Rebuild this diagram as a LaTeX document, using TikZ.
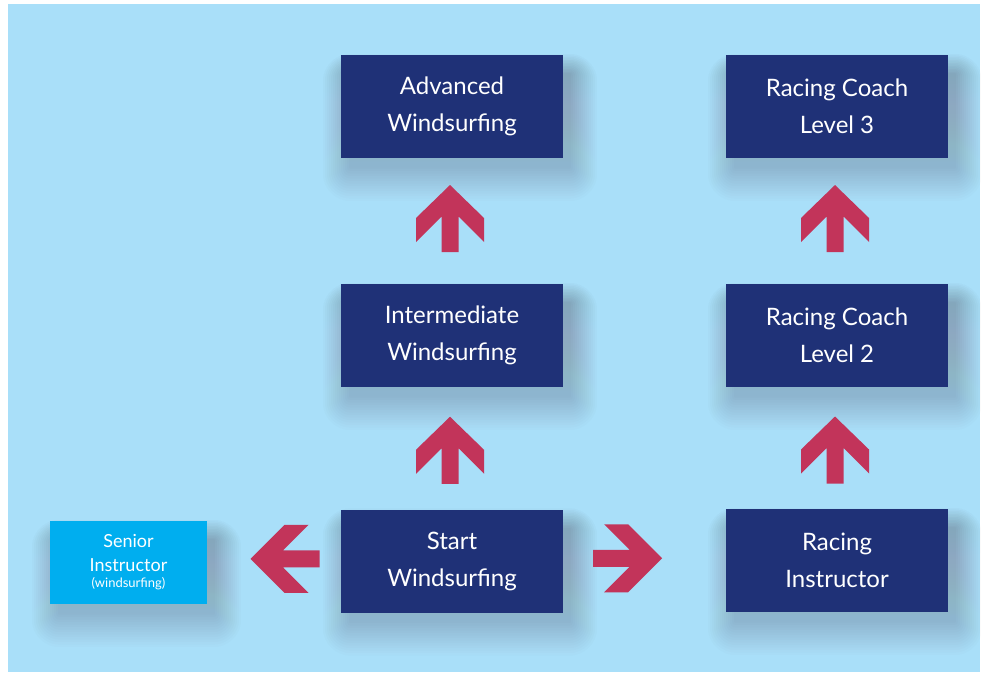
\documentclass[tikz,border=0pt]{standalone}
\usepackage{fontspec}
\setmainfont{Lato}
\usetikzlibrary{calc,backgrounds}
\definecolor{bgblue}{HTML}{A9DFF9}
\definecolor{navy}{HTML}{1F3177}
\definecolor{crimson}{HTML}{C2345A}
\definecolor{cyanbox}{HTML}{00AEEF}
\definecolor{shade}{HTML}{2A4F6A}
\begin{document}
\begin{tikzpicture}[x=1pt,y=-1pt,
  box/.style={fill=navy, text=white, minimum width=222pt, minimum height=103pt, inner sep=0pt, align=center, font=\fontsize{24}{37}\selectfont},
  seniorbox/.style={fill=cyanbox, text=white, minimum width=157pt, minimum height=83pt, inner sep=0pt, align=center, font=\fontsize{18}{24}\selectfont},
  blockarrow/.style={fill=crimson, draw=none},
  uparrow/.pic={\fill[blockarrow] (0,-33.5) -- (34,-0.5) -- (34,23.5) -- (8.5,-2) -- (8.5,33.5) -- (-8.5,33.5) -- (-8.5,-2) -- (-34,23.5) -- (-34,-0.5) -- cycle;},
  rightarrow/.pic={\fill[blockarrow] (34.5,0) -- (0.5,-34) -- (-23.5,-34) -- (2,-8.5) -- (-34.5,-8.5) -- (-34.5,8.5) -- (2,8.5) -- (-23.5,34) -- (0.5,34) -- cycle;},
  leftarrow/.pic={\fill[blockarrow] (-34.5,0) -- (-0.5,-34) -- (23.5,-34) -- (-2,-8.5) -- (34.5,-8.5) -- (34.5,8.5) -- (-2,8.5) -- (23.5,34) -- (-0.5,34) -- cycle;}
]
\useasboundingbox (0,0) rectangle (981,674);

\node[box] (adv) at (452,106.5) {Advanced\\Windsurfing};
\node[box] (rc3) at (837,106.5) {Racing Coach\\Level 3};
\node[box] (inter) at (452,335.5) {Intermediate\\Windsurfing};
\node[box] (rc2) at (837,335.5) {Racing Coach\\Level 2};
\node[box] (start) at (452,561) {Start\\Windsurfing};
\node[box] (ri) at (837,560.5) {Racing\\Instructor};
\node[seniorbox] (senior) at (128.5,562.5) {Senior\\Instructor\\[-8pt]{\fontsize{13}{15}\selectfont(windsurfing)}};

\begin{pgfonlayer}{background}
  \fill[white] (0,0) rectangle (981,674);
  \fill[bgblue] (8,4) rectangle (980,672);
  \foreach \n in {adv,rc3,inter,rc2,start,ri,senior} {
    \foreach \k in {1,...,14} {
      \fill[shade, opacity=0.012, rounded corners=\k*2pt]
        ($(\n.north west)+(10-\k*2,20-\k*1.5)$) rectangle ($(\n.south east)+(6+\k*2,8+\k*2.5)$);
    }
  }
\end{pgfonlayer}

\pic at ($(adv.south)!0.5!(inter.north)+(-2,-2.5)$) {uparrow};
\pic at ($(rc3.south)!0.5!(rc2.north)+(-2,-2.5)$) {uparrow};
\pic at ($(inter.south)!0.5!(start.north)+(-2,2)$) {uparrow};
\pic at ($(rc2.south)!0.5!(ri.north)+(-2,2)$) {uparrow};
\pic at ($(start.east)!0.5!(ri.west)+(-17,-2.5)$) {rightarrow};
\pic at ($(senior.east)!0.5!(start.west)+(11,-3)$) {leftarrow};
\end{tikzpicture}
\end{document}
